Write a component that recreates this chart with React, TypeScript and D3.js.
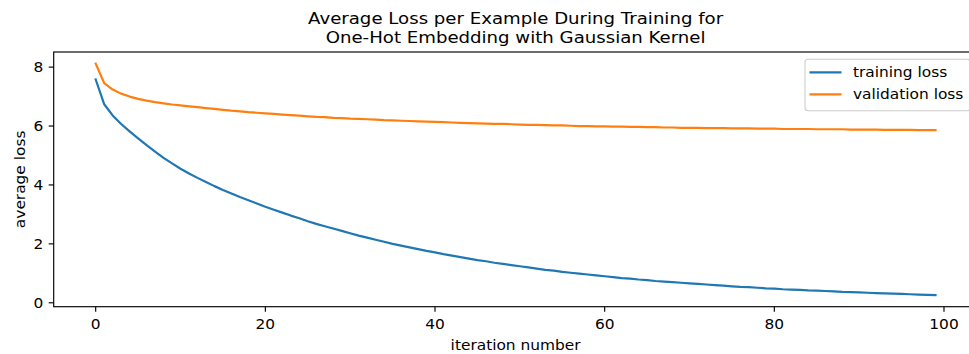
import React, { useEffect, useRef } from 'react';
import * as d3 from 'd3';

const iterations = d3.range(0, 100);

const trainingLoss = [
  7.58, 6.74, 6.36, 6.07, 5.82, 5.58, 5.35, 5.13, 4.92, 4.73,
  4.55, 4.39, 4.24, 4.1, 3.96, 3.83, 3.71, 3.59, 3.48, 3.37,
  3.26, 3.16, 3.06, 2.96, 2.87, 2.77, 2.68, 2.6, 2.52, 2.44,
  2.36, 2.28, 2.21, 2.14, 2.07, 2.0, 1.94, 1.88, 1.82, 1.76,
  1.71, 1.65, 1.6, 1.55, 1.5, 1.45, 1.41, 1.36, 1.32, 1.28,
  1.24, 1.2, 1.16, 1.12, 1.09, 1.05, 1.02, 0.99, 0.96, 0.93,
  0.9, 0.87, 0.84, 0.82, 0.79, 0.77, 0.74, 0.72, 0.7, 0.68,
  0.66, 0.64, 0.62, 0.6, 0.58, 0.56, 0.54, 0.53, 0.51, 0.49,
  0.48, 0.46, 0.45, 0.44, 0.42, 0.41, 0.4, 0.39, 0.37, 0.36,
  0.35, 0.34, 0.33, 0.32, 0.31, 0.3, 0.29, 0.28, 0.27, 0.26,
];

const validationLoss = [
  8.12, 7.46, 7.24, 7.1, 7.0, 6.92, 6.86, 6.81, 6.77, 6.73,
  6.7, 6.67, 6.64, 6.61, 6.58, 6.55, 6.52, 6.5, 6.47, 6.45,
  6.43, 6.41, 6.39, 6.37, 6.35, 6.33, 6.31, 6.3, 6.28, 6.27,
  6.25, 6.24, 6.23, 6.22, 6.2, 6.19, 6.18, 6.17, 6.16, 6.15,
  6.14, 6.13, 6.12, 6.11, 6.1, 6.09, 6.08, 6.07, 6.07, 6.06,
  6.05, 6.04, 6.04, 6.03, 6.02, 6.02, 6.01, 6.0, 6.0, 5.99,
  5.99, 5.98, 5.98, 5.97, 5.97, 5.96, 5.96, 5.95, 5.95, 5.94,
  5.94, 5.94, 5.93, 5.93, 5.93, 5.92, 5.92, 5.92, 5.91, 5.91,
  5.91, 5.9, 5.9, 5.9, 5.9, 5.89, 5.89, 5.89, 5.89, 5.88,
  5.88, 5.88, 5.88, 5.87, 5.87, 5.87, 5.87, 5.86, 5.86, 5.86,
];

const xTicks = [0, 20, 40, 60, 80, 100];
const yTicks = [0, 2, 4, 6, 8];

const seriesNames = ['training loss', 'validation loss'];
const seriesColors = ['#1f77b4', '#ff7f0e'];
const titleLines = ['Average Loss per Example During Training for', 'One-Hot Embedding with Gaussian Kernel'];

const font = '"DejaVu Sans", sans-serif';
const stretch = 1.1; // the picture's text is a bit wider than tall

// matplotlib-style 5% padding
const padded = (lo: number, hi: number) => {
  const m = (hi - lo) * 0.05;
  return [lo - m, hi + m];
};

const App = () => {
  const chartRef = useRef<SVGSVGElement>(null);

  useEffect(() => {
    const svg = d3.select(chartRef.current);
    svg.selectAll('*').remove();
    const width = 969;
    const height = 354;
    const margin = { top: 52, right: -8.5, bottom: 47.3, left: 53.7 };

    const allY = [...trainingLoss, ...validationLoss];

    const x = d3
      .scaleLinear()
      .domain(padded(0, iterations.length - 1))
      .range([margin.left, width - margin.right]);

    const y = d3
      .scaleLinear()
      .domain(padded(d3.min(allY)!, d3.max(allY)!))
      .range([height - margin.bottom, margin.top]);

    const x0 = margin.left;
    const x1 = width - margin.right;
    const y0 = height - margin.bottom;
    const y1 = margin.top;

    const addText = (px: number, py: number, s: string | number, size: number, anchor: string, rot = 0) => {
      const t = svg
        .append('text')
        .attr('transform', `translate(${px},${py}) rotate(${rot}) scale(${stretch},1)`)
        .attr('text-anchor', anchor)
        .attr('font-family', font)
        .attr('font-size', size)
        .attr('fill', '#000')
        .text(s);
      return t;
    };

    const line = d3
      .line<number>()
      .x((_, i) => x(iterations[i]))
      .y(d => y(d));

    [trainingLoss, validationLoss].forEach((values, i) => {
      svg
        .append('path')
        .datum(values)
        .attr('fill', 'none')
        .attr('stroke', seriesColors[i])
        .attr('stroke-width', 2.2)
        .attr('stroke-linejoin', 'round')
        .attr('stroke-linecap', 'square')
        .attr('d', line);
    });

    // spines
    svg
      .append('rect')
      .attr('x', x0)
      .attr('y', y1)
      .attr('width', x1 - x0)
      .attr('height', y0 - y1)
      .attr('fill', 'none')
      .attr('stroke', '#000')
      .attr('stroke-width', 1.15);

    xTicks.forEach(t => {
      svg
        .append('line')
        .attr('x1', x(t))
        .attr('x2', x(t))
        .attr('y1', y0)
        .attr('y2', y0 + 5)
        .attr('stroke', '#000')
        .attr('stroke-width', 1.15);
      addText(x(t), 328.5, t, 14, 'middle');
    });

    yTicks.forEach(t => {
      svg
        .append('line')
        .attr('x1', x0 - 5)
        .attr('x2', x0)
        .attr('y1', y(t))
        .attr('y2', y(t))
        .attr('stroke', '#000')
        .attr('stroke-width', 1.15);
      addText(x0 - 10.3, y(t) + 5.1, t, 14, 'end');
    });

    addText((x0 + x1) / 2, 350, 'iteration number', 14, 'middle');
    addText(24.5, (y0 + y1) / 2, 'average loss', 14, 'middle', -90);

    titleLines.forEach((s, i) => {
      addText((x0 + x1) / 2, 23.5 + i * 19, s, 16.5, 'middle');
    });

    // legend, upper right
    const lgRight = x1 - 7.6;
    const lgTop = y1 + 7.2;
    svg
      .append('rect')
      .attr('x', 805)
      .attr('y', lgTop)
      .attr('width', lgRight - 805)
      .attr('height', 51.5)
      .attr('rx', 3)
      .attr('fill', 'white')
      .attr('fill-opacity', 0.8)
      .attr('stroke', '#cccccc')
      .attr('stroke-width', 1.1);
    seriesNames.forEach((name, i) => {
      const ly = 72.3 + i * 22;
      svg
        .append('line')
        .attr('x1', 809.5)
        .attr('x2', 841.5)
        .attr('y1', ly)
        .attr('y2', ly)
        .attr('stroke', seriesColors[i])
        .attr('stroke-width', 2.2);
      addText(853, ly + 5, name, 14, 'start');
    });
  }, []);

  return (
    <svg
      ref={chartRef}
      width={969}
      height={354}
      style={{ position: 'absolute', left: 0, top: 0, background: 'white' }}
    ></svg>
  );
};

export default App;
